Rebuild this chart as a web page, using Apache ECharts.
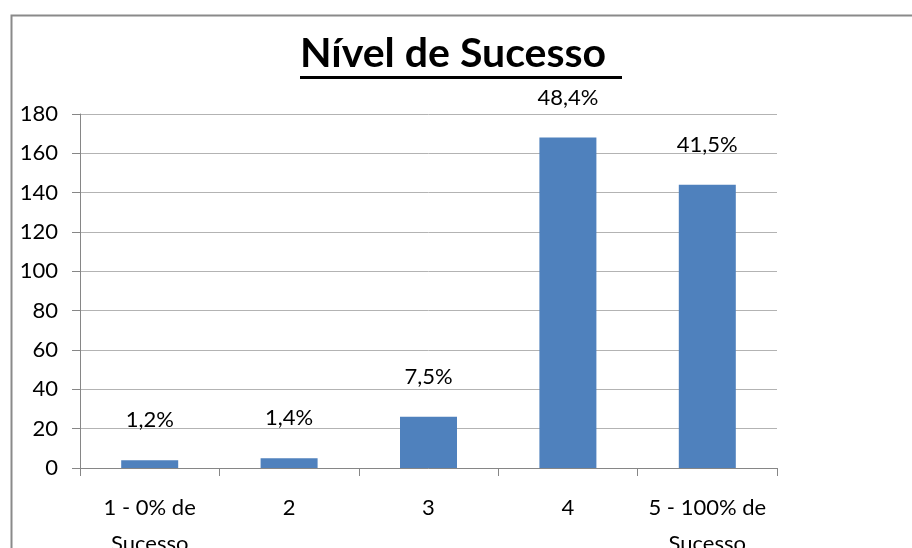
<!DOCTYPE html>
<html>
<head>
<meta charset="utf-8">
<script src="https://cdn.jsdelivr.net/npm/echarts@6/dist/echarts.min.js"></script>
<style>
  html, body { margin: 0; padding: 0; background: #fff; }
  #chart { width: 912px; height: 548px; }
</style>
</head>
<body>
<div id="chart"></div>
<script>
var titulo = 'Nível de Sucesso';
var categorias = ['1 - 0% de\nSucesso', '2', '3', '4', '5 - 100% de\nSucesso'];
var respostas = [4, 5, 26, 168, 144];
var percentuais = ['1,2%', '1,4%', '7,5%', '48,4%', '41,5%'];
var yTicks = { min: 0, max: 180, interval: 20 };

var fonte = 'Lato, "Noto Sans", sans-serif';
var chart = echarts.init(document.getElementById('chart'));

chart.setOption({
  animation: false,
  backgroundColor: '#fff',
  graphic: [
    // moldura do gráfico (cortada à direita e em baixo)
    { type: 'rect', left: 9, top: 13, shape: { width: 1000, height: 1000 }, style: { fill: 'none', stroke: '#8a8a8a', lineWidth: 2 }, silent: true }
  ],
  title: {
    text: '{t|' + titulo + '}\n{u|}',
    left: 300,
    top: 32,
    padding: 0,
    textStyle: {
      rich: {
        t: { fontFamily: fonte, fontWeight: 'bold', fontSize: 41, color: '#000', lineHeight: 44 },
        u: { width: 322, height: 3, backgroundColor: '#000', lineHeight: 3 }
      }
    }
  },
  grid: { left: 80, right: 135, top: 114, bottom: 80, outerBoundsMode: 'none' },
  xAxis: {
    type: 'category',
    data: categorias,
    axisLine: { lineStyle: { color: '#868686', width: 1 } },
    axisTick: { show: true, length: 8, lineStyle: { color: '#868686' } },
    axisLabel: { color: '#000', fontFamily: fonte, fontSize: 22, lineHeight: 36, margin: 22, interval: 0 },
    splitLine: { show: false }
  },
  yAxis: {
    type: 'value',
    min: yTicks.min,
    max: yTicks.max,
    interval: yTicks.interval,
    axisLine: { show: true, lineStyle: { color: '#868686', width: 1 } },
    axisTick: { show: true, length: 8, lineStyle: { color: '#868686' } },
    axisLabel: { color: '#000', fontFamily: fonte, fontSize: 22, margin: 22 },
    splitLine: { lineStyle: { color: '#b3b3b3', width: 1 } }
  },
  series: [{
    type: 'bar',
    data: respostas,
    barWidth: 57,
    itemStyle: { color: '#4f81bd' },
    label: {
      show: true,
      position: 'top',
      distance: 29,
      color: '#000',
      fontFamily: fonte,
      fontSize: 22,
      formatter: function(p) { return percentuais[p.dataIndex]; }
    }
  }]
});
</script>
</body>
</html>
